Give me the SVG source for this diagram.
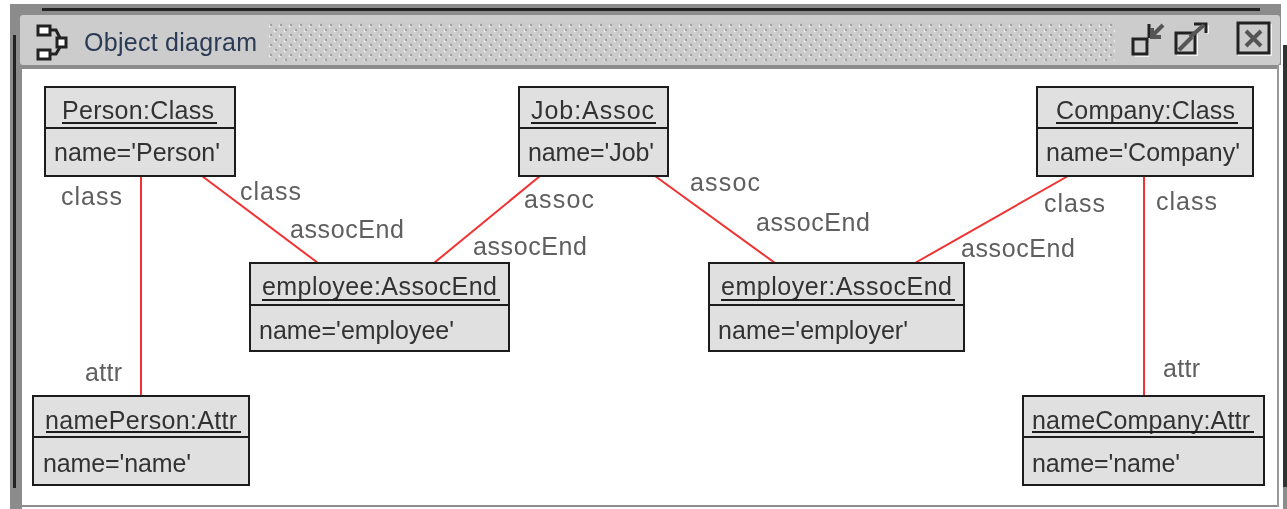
<svg xmlns="http://www.w3.org/2000/svg" width="1287" height="509" viewBox="0 0 1287 509">
<style>
text{font-family:"Liberation Sans",Arial,sans-serif;font-size:25px;fill:#333}
.l{fill:#5e5e5e}
.box{fill:#e0e0e0;stroke:#1a1a1a;stroke-width:2}
.u{stroke:#1a1a1a;stroke-width:2}
.c line{stroke:#f03030;stroke-width:2}
.i{fill:none;stroke:#222;stroke-width:3}
.g{stroke:#555;stroke-width:4;fill:none}
.w{fill:none;stroke:#f4f4f4;stroke-width:2}
</style>
<defs>
<pattern id="dots" x="268" y="23" width="10" height="10" patternUnits="userSpaceOnUse"><rect width="10" height="10" fill="#cbcbcb"/><circle cx="2" cy="3" r="1.4" fill="#ededed"/><circle cx="3" cy="2" r="1.2" fill="#a0a0a0"/><circle cx="7" cy="8" r="1.4" fill="#ededed"/><circle cx="8" cy="7" r="1.2" fill="#a0a0a0"/></pattern>
<filter id="soft" x="0" y="0" width="100%" height="100%"><feGaussianBlur stdDeviation="0.55"/></filter>
</defs>
<rect width="1287" height="509" fill="#fff"/>
<g filter="url(#soft)">
<g id="window">
<rect x="10" y="4" width="1271" height="505" fill="#8c8c8c"/>
<rect x="42" y="8" width="1218" height="3" fill="#222"/>
<rect x="13" y="35" width="3" height="453" fill="#222"/>
<rect x="20" y="15" width="1260" height="50" rx="3" fill="#cccccc"/>
<rect x="22" y="69" width="1255" height="436" fill="#fff"/>
<rect x="1277" y="65" width="2" height="442" fill="#999"/>
<rect x="1279" y="65" width="4" height="444" fill="#fff"/>
<rect x="22" y="507" width="1261" height="2" fill="#fff"/>
<rect x="1281" y="0" width="6" height="45" fill="#fff"/>
<rect x="1283" y="45" width="4" height="442" fill="#333"/>
<rect x="1283" y="487" width="4" height="22" fill="#8c8c8c"/>
<rect x="268" y="23" width="847" height="38" fill="url(#dots)"/>
<g class="i" stroke-width="2.5">
<rect x="38" y="26" width="12" height="9" fill="#fff"/><rect x="38" y="50" width="12" height="9" fill="#fff"/><rect x="57" y="38" width="9" height="9" fill="#fff"/>
<path d="M50 30h6l4 8M50 54h6l4-7"/>
</g>
<text x="84" y="51" textLength="173" style="fill:#2b3a55">Object diagram</text>
<path class="w" d="M1135 56h13V43M1197 35v20h-20M1208 25v9M1271 24v31h-33"/>
<rect class="i" x="1133" y="39" width="14" height="15"/>
<path d="M1149 38V24" class="i"/><path class="g" d="M1163 25l-12 12M1152 28v9h9"/>
<rect class="i" x="1176" y="33" width="19" height="20"/><path class="g" d="M1179 50l13-13"/><path class="i" d="M1194 24h12v9"/><path class="g" d="M1190 37l14-12"/>
<rect class="i" x="1238" y="23" width="31" height="30"/><path class="g" d="M1246 31l15 15M1261 31l-15 15" stroke-width="5"/>
</g>
<g class="c" id="connectors">
<line x1="141" y1="176" x2="141" y2="396"/>
<line x1="202" y1="176" x2="318" y2="263"/>
<line x1="540" y1="176" x2="434" y2="263"/>
<line x1="655" y1="176" x2="775" y2="263"/>
<line x1="1068" y1="176" x2="915" y2="263"/>
<line x1="1144" y1="176" x2="1144" y2="396"/>
</g>
<g id="labels">
<text class="l" x="61" y="205" textLength="61">class</text>
<text class="l" x="240" y="200" textLength="61">class</text>
<text class="l" x="290" y="238" textLength="114">assocEnd</text>
<text class="l" x="524" y="208" textLength="70">assoc</text>
<text class="l" x="473" y="255" textLength="114">assocEnd</text>
<text class="l" x="690" y="191" textLength="70">assoc</text>
<text class="l" x="756" y="231" textLength="114">assocEnd</text>
<text class="l" x="1044" y="212" textLength="61">class</text>
<text class="l" x="961" y="257" textLength="114">assocEnd</text>
<text class="l" x="1156" y="210" textLength="61">class</text>
<text class="l" x="85" y="381" textLength="37">attr</text>
<text class="l" x="1163" y="377" textLength="37">attr</text>
</g>
<g id="person"><rect class="box" x="45" y="87" width="190" height="89"/><line class="u" x1="45" y1="128" x2="235" y2="128"/><text x="62" y="119" textLength="152">Person:Class</text><line class="u" x1="62" y1="123" x2="217" y2="123"/><text x="54" y="161" textLength="166">name='Person'</text></g>
<g id="job"><rect class="box" x="519" y="87" width="149" height="89"/><line class="u" x1="519" y1="128" x2="668" y2="128"/><text x="531" y="119" textLength="123">Job:Assoc</text><line class="u" x1="531" y1="123" x2="656" y2="123"/><text x="528" y="161" textLength="126">name='Job'</text></g>
<g id="company"><rect class="box" x="1037" y="87" width="216" height="89"/><line class="u" x1="1037" y1="128" x2="1253" y2="128"/><text x="1056" y="119" textLength="179">Company:Class</text><line class="u" x1="1056" y1="123" x2="1238" y2="123"/><text x="1046" y="161" textLength="194">name='Company'</text></g>
<g id="employee"><rect class="box" x="250" y="263" width="259" height="88"/><line class="u" x1="250" y1="305" x2="509" y2="305"/><text x="262" y="295" textLength="235">employee:AssocEnd</text><line class="u" x1="262" y1="300" x2="500" y2="300"/><text x="259" y="339" textLength="195">name='employee'</text></g>
<g id="employer"><rect class="box" x="709" y="263" width="255" height="88"/><line class="u" x1="709" y1="305" x2="964" y2="305"/><text x="721" y="295" textLength="231">employer:AssocEnd</text><line class="u" x1="721" y1="300" x2="955" y2="300"/><text x="718" y="339" textLength="190">name='employer'</text></g>
<g id="namePerson"><rect class="box" x="33" y="396" width="216" height="89"/><line class="u" x1="33" y1="437" x2="249" y2="437"/><text x="45" y="429" textLength="192">namePerson:Attr</text><line class="u" x1="46" y1="432" x2="241" y2="432"/><text x="43" y="472" textLength="148">name='name'</text></g>
<g id="nameCompany"><rect class="box" x="1023" y="396" width="241" height="89"/><line class="u" x1="1023" y1="437" x2="1264" y2="437"/><text x="1032" y="429" textLength="218">nameCompany:Attr</text><line class="u" x1="1032" y1="432" x2="1254" y2="432"/><text x="1032" y="472" textLength="148">name='name'</text></g>
</g>
</svg>
